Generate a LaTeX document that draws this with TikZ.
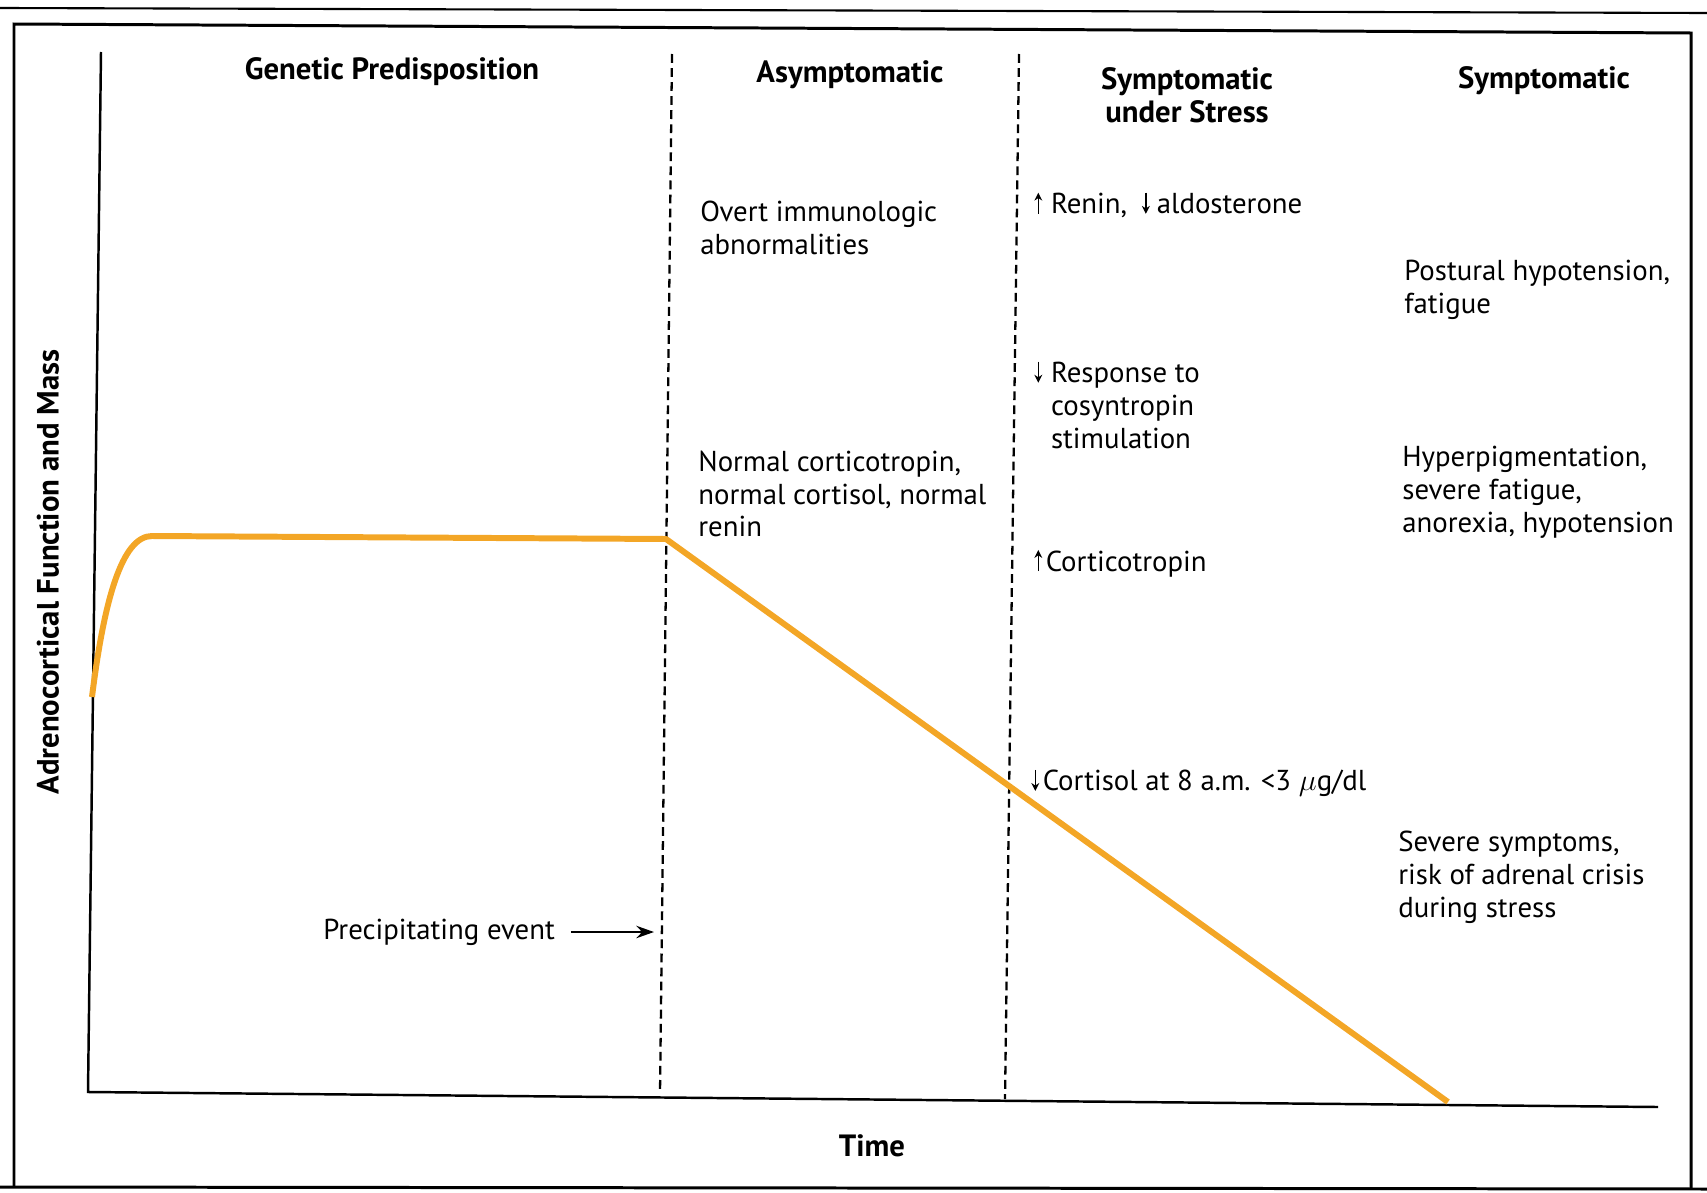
\documentclass[tikz,border=0pt]{standalone}
\usepackage{fontspec}
\setmainfont{PT Sans}
\usetikzlibrary{arrows.meta}
\definecolor{coursecol}{RGB}{243,166,38}
\newcommand{\incr}{\tikz[baseline=0pt, x=1pt, y=1pt]\draw[line width=0.9pt, -{Stealth[length=4.5pt, width=4.5pt]}] (0, 0) -- (0, 12);\hspace{2pt}}
\newcommand{\decr}{\tikz[baseline=0pt, x=1pt, y=1pt]\draw[line width=0.9pt, -{Stealth[length=4.5pt, width=4.5pt]}] (0, 12) -- (0, 0);\hspace{2pt}}

\begin{document}
\begin{tikzpicture}[x=0.02cm, y=-0.02cm,
	every node/.style={inner sep=0pt, font=\fontsize{16.4}{18.7}\selectfont},
	head/.style={align=center, font=\fontsize{17.5}{18.7}\selectfont\bfseries},
	note/.style={anchor=west, align=left},
	frame/.style={line width=1.7pt},
	axis/.style={line width=1.4pt},
	phase/.style={line width=1.3pt, dash pattern=on 5pt off 3pt},
	course/.style={line width=3.4pt, draw=coursecol, line join=round}]
	\useasboundingbox (0, 0) rectangle (1707, 1193);
	\draw[line width=1.2pt] (0, 8) -- (1707, 13);
	\draw[frame] (0, 1187) -- (1707, 1189);
	\draw[frame] (14, 1187) -- (14, 24) -- (1691, 33) -- (1691, 1188);
	\draw[axis] (101, 52) -- (88, 1092) -- (1658, 1107);
	\draw[phase] (672, 54) -- (660, 1094);
	\draw[phase] (1019, 54) -- (1005, 1099);
	\draw[course] (92, 697) .. controls (104, 600) and (122, 536) .. (152, 536) -- (666, 539) -- (1448, 1102);
	\node[head] (genetic) at (392, 72) {Genetic Predisposition};
	\node[head] (asymptomatic) at (850, 75) {Asymptomatic};
	\node[head] (stress) at (1187, 95) {Symptomatic\\under Stress};
	\node[head] (symptomatic) at (1544, 81) {Symptomatic};
	\node[note] (overt) at (700, 228) {Overt immunologic\\abnormalities};
	\node[note] (normal) at (698, 494) {Normal corticotropin,\\normal cortisol, normal\\renin};
	\node[note] (renin) at (1034, 205) {\incr\hspace{3pt}Renin,\hspace{4pt} \decr\hspace{2pt}aldosterone};
	\node[note] (response) at (1034, 405) {\decr\hspace{3pt}Response to\\\phantom{\decr\hspace{3pt}}cosyntropin\\\phantom{\decr\hspace{3pt}}stimulation};
	\node[note] (corticotropin) at (1034, 563) {\incr Corticotropin};
	\node[note] (cortisol) at (1031, 783) {\decr Cortisol at 8 a.m. <3 $\mu$g/dl};
	\node[note] (postural) at (1404, 290) {Postural hypotension,\\fatigue};
	\node[note] (hyper) at (1402, 492) {Hyperpigmentation,\\severe fatigue,\\anorexia, hypotension};
	\node[note] (severe) at (1398, 877) {Severe symptoms,\\risk of adrenal crisis\\during stress};
	\node[note] (precipitating) at (323, 932) {Precipitating event};
	\coordinate (onset) at (654, 932);
	\draw[line width=1.4pt, -{Stealth[length=10pt, width=7pt]}] ([xshift=9pt]precipitating.east) -- (onset);
	\node[head] (time) at (872, 1146) {Time};
	\node[head, rotate=90] (ylabel) at (48, 572) {Adrenocortical Function and Mass};
\end{tikzpicture}
\end{document}
